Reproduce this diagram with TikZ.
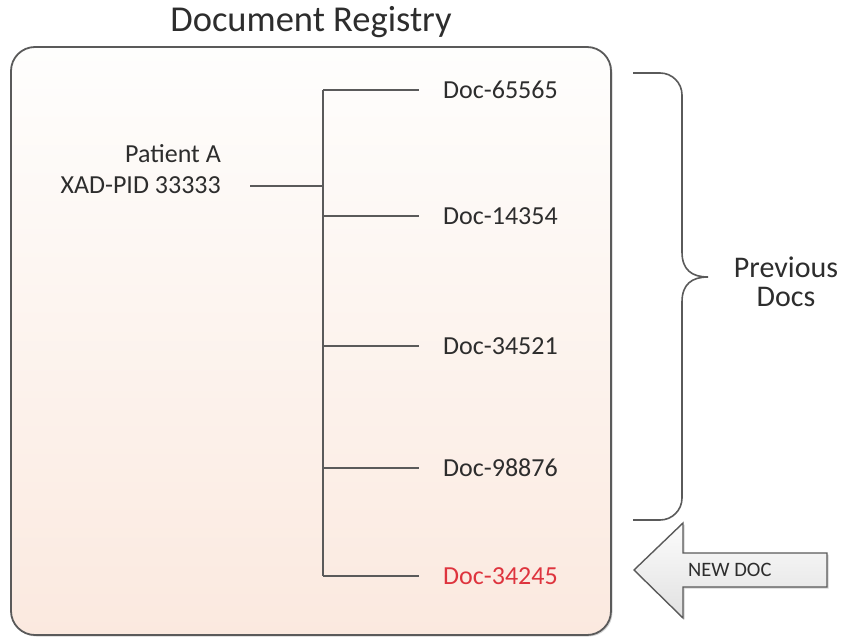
\documentclass[tikz,border=0pt]{standalone}
\usepackage{fontspec}
\setmainfont{Carlito}
\usetikzlibrary{shadows}
\definecolor{txt}{RGB}{45,45,45}
\definecolor{ln}{RGB}{90,90,90}
\definecolor{boxtop}{RGB}{254,254,253}
\definecolor{boxbot}{RGB}{251,233,223}
\definecolor{newred}{RGB}{222,52,62}
\definecolor{arrtop}{RGB}{252,252,252}
\definecolor{arrbot}{RGB}{225,225,225}
\tikzset{
  regbox/.style={draw=ln, line width=1.8pt, rounded corners=24pt, top color=boxtop, bottom color=boxbot,
    minimum width=600pt, minimum height=588pt, inner sep=0pt,
    drop shadow={shadow xshift=1.5pt, shadow yshift=-1.5pt, opacity=0.35}},
  conn/.style={draw=ln, line width=1.6pt},
  doclabel/.style={anchor=west, font=\fontsize{26}{31}\selectfont, text=txt, inner sep=0pt},
  bracestyle/.style={draw=ln, line width=1.6pt},
  newarrow/.style={draw=ln, line width=1.4pt, top color=arrtop, bottom color=arrbot,
    drop shadow={shadow xshift=1.5pt, shadow yshift=-1.5pt, opacity=0.35}},
}
\begin{document}
\begin{tikzpicture}[x=1pt, y=-1pt]
\useasboundingbox (0,0) rectangle (848,637);
\node[font=\fontsize{36.5}{40}\selectfont, text=txt] (title) at (311,22) {Document Registry};
\node[regbox] (reg) at (311,341) {};
\node[anchor=base east, align=right, font=\fontsize{26}{31}\selectfont, text=txt, inner sep=0pt] (patient) at (221,193) {Patient A\\XAD-PID 33333};
\coordinate (pstart) at (250,186);
\coordinate (pjoin) at (323,186);
\coordinate (stop) at (323,90);
\coordinate (sbot) at (323,576);
\draw[conn] (pstart) -- (pjoin);
\draw[conn] (stop) -- (sbot);
\foreach \n/\y/\t/\c in {d1/90/Doc-65565/txt, d2/216/Doc-14354/txt, d3/346/Doc-34521/txt, d4/468/Doc-98876/txt, d5/576/Doc-34245/newred}{
  \coordinate (\n s) at (323,\y);
  \coordinate (\n e) at (419,\y);
  \node[doclabel, text=\c] (\n) at (443,\y) {\t};
  \draw[conn] (\n s) -- (\n e);
}
% brace
\coordinate (bt) at (633,73);
\coordinate (bb) at (633,520);
\coordinate (btip) at (708,277);
\draw[bracestyle] (bt) -- (660,73) arc[start angle=90, end angle=0, radius=22pt] -- (682,252)
  .. controls (682,270) and (692,277) .. (btip)
  .. controls (692,277) and (682,284) .. (682,302)
  -- (682,498) arc[start angle=0, end angle=-90, radius=22pt] -- (bb);
\node[align=center, font=\fontsize{30}{29}\selectfont, text=txt] (prev) at (786,282) {Previous\\Docs};
% new doc arrow
\path[newarrow] (634,570) -- (683,523) -- (683,553) -- (827,553) -- (827,587) -- (683,587) -- (683,618) -- cycle;
\node[anchor=west, font=\fontsize{20.5}{24}\selectfont, text=txt, inner sep=0pt] (newdoc) at (688,570) {NEW DOC};
\end{tikzpicture}
\end{document}
